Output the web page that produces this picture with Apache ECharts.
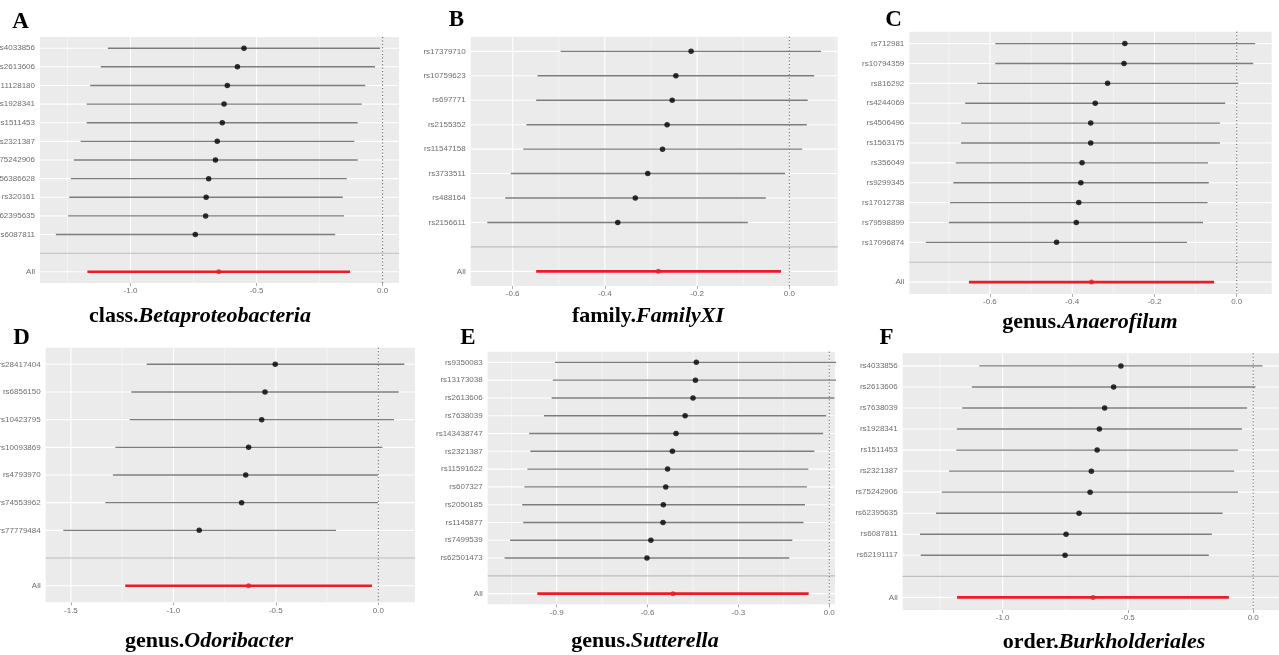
<!DOCTYPE html>
<html>
<head>
<meta charset="utf-8">
<script src="https://cdn.jsdelivr.net/npm/echarts@6/dist/echarts.min.js"></script>
<style>
  html, body { margin: 0; padding: 0; background: #ffffff; }
  #chart { width: 1279px; height: 655px; }
</style>
</head>
<body>
<div id="chart"></div>
<script>
// ---- Panel A: class.Betaproteobacteria ----
const titleA = ['class.', 'Betaproteobacteria'];
const snpsA = ['rs4033856', 'rs2613606', 'rs11128180', 'rs1928341', 'rs1511453', 'rs2321387', 'rs75242906', 'rs56386628', 'rs320161', 'rs62395635', 'rs6087811'];
const betaA = [-0.550, -0.576, -0.616, -0.629, -0.636, -0.656, -0.663, -0.690, -0.700, -0.702, -0.743];
const lowA = [-1.090, -1.118, -1.160, -1.174, -1.174, -1.198, -1.225, -1.237, -1.243, -1.248, -1.296];
const highA = [-0.010, -0.030, -0.069, -0.083, -0.099, -0.112, -0.099, -0.142, -0.158, -0.153, -0.188];
const allA = [-0.650, -1.171, -0.129]; // estimate, lower, upper
const ticksA = [-1.0, -0.5, 0.0];

// ---- Panel B: family.FamilyXI ----
const titleB = ['family.', 'FamilyXI'];
const snpsB = ['rs17379710', 'rs10759623', 'rs697771', 'rs2155352', 'rs11547158', 'rs3733511', 'rs488164', 'rs2156611'];
const betaB = [-0.213, -0.246, -0.254, -0.265, -0.275, -0.307, -0.334, -0.372];
const lowB = [-0.496, -0.546, -0.549, -0.570, -0.577, -0.604, -0.616, -0.655];
const highB = [0.069, 0.054, 0.040, 0.038, 0.028, -0.009, -0.051, -0.090];
const allB = [-0.284, -0.549, -0.018];
const ticksB = [-0.6, -0.4, -0.2, 0.0];

// ---- Panel C: genus.Anaerofilum ----
const titleC = ['genus.', 'Anaerofilum'];
const snpsC = ['rs712981', 'rs10794359', 'rs816292', 'rs4244069', 'rs4506496', 'rs1563175', 'rs356049', 'rs9299345', 'rs17012738', 'rs79598899', 'rs17096874'];
const betaC = [-0.272, -0.274, -0.314, -0.344, -0.355, -0.355, -0.376, -0.379, -0.384, -0.390, -0.438];
const lowC = [-0.587, -0.587, -0.631, -0.660, -0.670, -0.670, -0.683, -0.689, -0.697, -0.700, -0.756];
const highC = [0.045, 0.040, 0.004, -0.028, -0.041, -0.041, -0.070, -0.068, -0.071, -0.082, -0.121];
const allC = [-0.353, -0.651, -0.055];
const ticksC = [-0.6, -0.4, -0.2, 0.0];

// ---- Panel D: genus.Odoribacter ----
const titleD = ['genus.', 'Odoribacter'];
const snpsD = ['rs28417404', 'rs6856150', 'rs10423795', 'rs10093869', 'rs4793970', 'rs74553962', 'rs77779484'];
const betaD = [-0.503, -0.553, -0.569, -0.633, -0.647, -0.667, -0.874];
const lowD = [-1.130, -1.205, -1.213, -1.283, -1.295, -1.332, -1.537];
const highD = [0.127, 0.099, 0.077, 0.020, -0.002, -0.002, -0.206];
const allD = [-0.633, -1.235, -0.031];
const ticksD = [-1.5, -1.0, -0.5, 0.0];

// ---- Panel E: genus.Sutterella ----
const titleE = ['genus.', 'Sutterella'];
const snpsE = ['rs9350083', 'rs13173038', 'rs2613606', 'rs7638039', 'rs143438747', 'rs2321387', 'rs11591622', 'rs607327', 'rs2050185', 'rs1145877', 'rs7499539', 'rs62501473'];
const betaE = [-0.439, -0.442, -0.450, -0.476, -0.506, -0.518, -0.534, -0.540, -0.548, -0.549, -0.589, -0.602];
const lowE = [-0.906, -0.913, -0.917, -0.942, -0.991, -0.987, -0.997, -1.007, -1.014, -1.011, -1.054, -1.072];
const highE = [0.028, 0.029, 0.017, -0.010, -0.020, -0.049, -0.069, -0.074, -0.080, -0.085, -0.122, -0.132];
const allE = [-0.516, -0.964, -0.068];
const ticksE = [-0.9, -0.6, -0.3, 0.0];

// ---- Panel F: order.Burkholderiales ----
const titleF = ['order.', 'Burkholderiales'];
const snpsF = ['rs4033856', 'rs2613606', 'rs7638039', 'rs1928341', 'rs1511453', 'rs2321387', 'rs75242906', 'rs62395635', 'rs6087811', 'rs62191117'];
const betaF = [-0.528, -0.557, -0.593, -0.614, -0.623, -0.646, -0.651, -0.695, -0.747, -0.751];
const lowF = [-1.093, -1.123, -1.161, -1.183, -1.185, -1.214, -1.243, -1.266, -1.330, -1.327];
const highF = [0.037, 0.009, -0.024, -0.045, -0.061, -0.076, -0.061, -0.122, -0.165, -0.177];
const allF = [-0.639, -1.182, -0.097];
const ticksF = [-1.0, -0.5, 0.0];

const panels = [
  { tag: 'A', title: titleA, snps: snpsA, beta: betaA, low: lowA, high: highA, all: allA, ticks: ticksA },
  { tag: 'B', title: titleB, snps: snpsB, beta: betaB, low: lowB, high: highB, all: allB, ticks: ticksB },
  { tag: 'C', title: titleC, snps: snpsC, beta: betaC, low: lowC, high: highC, all: allC, ticks: ticksC },
  { tag: 'D', title: titleD, snps: snpsD, beta: betaD, low: lowD, high: highD, all: allD, ticks: ticksD },
  { tag: 'E', title: titleE, snps: snpsE, beta: betaE, low: lowE, high: highE, all: allE, ticks: ticksE },
  { tag: 'F', title: titleF, snps: snpsF, beta: betaF, low: lowF, high: highF, all: allF, ticks: ticksF }
];

// Plot frames, x ranges and text anchors for the 3 x 2 arrangement
const frames = [
  { left: 40,    top: 37,    width: 359,   height: 246,   xMin: -1.359, xMax: 0.065, tagAt: [20.5, 22.5],  titleAt: [200, 316] },
  { left: 470.7, top: 36.7,  width: 367,   height: 249.3, xMin: -0.691, xMax: 0.105, tagAt: [456.5, 20.5], titleAt: [648, 316] },
  { left: 909.3, top: 31.7,  width: 362.4, height: 262.3, xMin: -0.796, xMax: 0.085, tagAt: [893.5, 20.5], titleAt: [1090, 322.5] },
  { left: 45.7,  top: 347.7, width: 369.3, height: 254.6, xMin: -1.623, xMax: 0.179, tagAt: [21.5, 338],   titleAt: [209, 641.5] },
  { left: 487.7, top: 351.7, width: 347.3, height: 252.6, xMin: -1.128, xMax: 0.019, tagAt: [468, 338],    titleAt: [645, 641.5] },
  { left: 902.7, top: 353.3, width: 376.3, height: 256.7, xMin: -1.399, xMax: 0.103, tagAt: [886.5, 338],  titleAt: [1104, 642] }
];

const RED = '#ec1c24';
const CI_GREY = '#7c7c7c';
const LABEL_GREY = '#6e6e6e';
const SANS = '"Liberation Sans", Arial, sans-serif';
const SERIF = '"Liberation Serif", "Times New Roman", serif';

// Guide kinds: 0 major vertical, 1 minor vertical, 2 row line, 3 separator, 4 zero reference
const guideStyles = [
  { stroke: '#ffffff', lineWidth: 1.1 },
  { stroke: 'rgba(255,255,255,0.8)', lineWidth: 0.6 },
  { stroke: '#ffffff', lineWidth: 1.1 },
  { stroke: '#bebebe', lineWidth: 1.1 },
  { stroke: '#4a4a4a', lineWidth: 0.9, lineDash: [1.2, 2.2] }
];

function drawGuide(params, api) {
  const kind = api.value(0);
  const v = api.value(1);
  const cs = params.coordSys;
  let shape;
  if (kind === 2 || kind === 3) {
    const y = api.coord([0, v])[1];
    shape = { x1: cs.x, y1: y, x2: cs.x + cs.width, y2: y };
  } else {
    const x = api.coord([v, 0])[0];
    shape = { x1: x, y1: cs.y, x2: x, y2: cs.y + cs.height };
  }
  return { type: 'line', shape: shape, style: Object.assign({}, guideStyles[kind]), silent: true };
}

function drawInterval(params, api) {
  const row = api.value(2);
  const a = api.coord([api.value(0), row]);
  const b = api.coord([api.value(1), row]);
  const pooled = api.value(3) === 1;
  return {
    type: 'line',
    shape: { x1: a[0], y1: a[1], x2: b[0], y2: b[1] },
    style: { stroke: pooled ? RED : CI_GREY, lineWidth: pooled ? 2.6 : 1.4 }
  };
}

const grid = [], xAxis = [], yAxis = [], series = [], graphic = [];

panels.forEach(function (p, k) {
  const f = frames[k];
  const n = p.snps.length;
  const blankRow = n;
  const allRow = n + 1;
  const rows = p.snps.map(function (_, i) { return i; }).concat([allRow]);

  grid.push({
    left: f.left, top: f.top, width: f.width, height: f.height,
    containLabel: false, outerBoundsMode: 'none',
    show: true, backgroundColor: '#ebebeb', borderWidth: 0
  });

  xAxis.push({
    type: 'value', gridIndex: k, min: f.xMin, max: f.xMax, position: 'bottom',
    axisLine: { show: false, onZero: false },
    splitLine: { show: false },
    axisTick: { show: true, customValues: p.ticks, length: 3, lineStyle: { color: '#8a8a8a', width: 0.7 } },
    axisLabel: {
      customValues: p.ticks,
      formatter: function (v) { return Number(v).toFixed(1); },
      margin: 4, fontSize: 8, fontFamily: SANS, color: LABEL_GREY
    }
  });

  yAxis.push({
    type: 'value', gridIndex: k, inverse: true, min: -0.6, max: allRow + 0.6, position: 'left',
    axisLine: { show: false, onZero: false },
    splitLine: { show: false },
    axisTick: { show: false },
    axisLabel: {
      customValues: rows,
      formatter: function (v) { const i = Math.round(v); return i === allRow ? 'All' : p.snps[i]; },
      margin: 5, fontSize: 8, fontFamily: SANS, color: LABEL_GREY
    }
  });

  // background guides: vertical grid at breaks and half-breaks, row lines, separator, zero line
  const step = p.ticks[1] - p.ticks[0];
  const guides = [];
  p.ticks.forEach(function (t) { guides.push([0, t]); });
  for (let m = p.ticks[0] - step / 2; m <= f.xMax; m += step) {
    if (m >= f.xMin) guides.push([1, m]);
  }
  rows.forEach(function (r) { guides.push([2, r]); });
  guides.push([3, blankRow]);
  guides.push([4, 0]);

  series.push({
    type: 'custom', xAxisIndex: k, yAxisIndex: k, z: 1, silent: true,
    renderItem: drawGuide, data: guides
  });

  const intervals = p.snps.map(function (_, i) { return [p.low[i], p.high[i], i, 0]; })
    .concat([[p.all[1], p.all[2], allRow, 1]]);
  series.push({
    type: 'custom', xAxisIndex: k, yAxisIndex: k, z: 3, silent: true, clip: true,
    encode: { x: [0, 1], y: 2 },
    renderItem: drawInterval, data: intervals
  });

  const points = p.beta.map(function (b, i) { return [b, i]; });
  points.push({ value: [p.all[0], allRow], itemStyle: { color: RED }, symbolSize: 5 });
  series.push({
    type: 'scatter', xAxisIndex: k, yAxisIndex: k, z: 4, silent: true,
    symbol: 'circle', symbolSize: 5.5, itemStyle: { color: '#000000' },
    data: points
  });

  graphic.push({
    type: 'text', x: f.tagAt[0], y: f.tagAt[1], silent: true,
    style: {
      text: p.tag, fill: '#000000',
      fontFamily: SERIF, fontWeight: 'bold', fontSize: 23,
      align: 'center', verticalAlign: 'middle', textAlign: 'center', textVerticalAlign: 'middle'
    }
  });
  graphic.push({
    type: 'text', x: f.titleAt[0], y: f.titleAt[1], silent: true,
    style: {
      text: '{r|' + p.title[0] + '}{i|' + p.title[1] + '}',
      align: 'center', verticalAlign: 'middle', textAlign: 'center', textVerticalAlign: 'middle',
      rich: {
        r: { fontFamily: SERIF, fontWeight: 'bold', fontSize: 22, fill: '#000000', color: '#000000' },
        i: { fontFamily: SERIF, fontWeight: 'bold', fontStyle: 'italic', fontSize: 22, fill: '#000000', color: '#000000' }
      }
    }
  });
});

const chart = echarts.init(document.getElementById('chart'), null, { renderer: 'canvas' });
chart.setOption({
  animation: false,
  backgroundColor: '#ffffff',
  grid: grid,
  xAxis: xAxis,
  yAxis: yAxis,
  series: series,
  graphic: graphic
});
</script>
</body>
</html>
